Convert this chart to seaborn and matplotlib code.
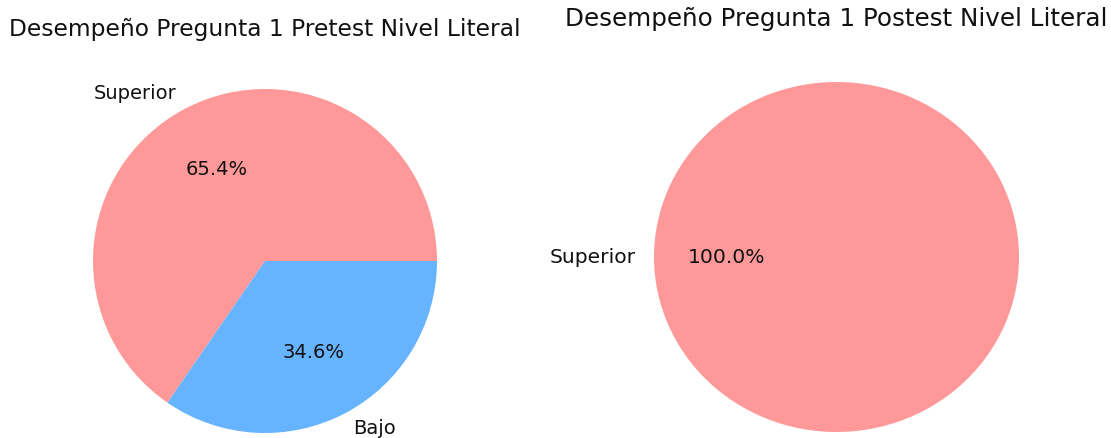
import matplotlib
matplotlib.use("Agg")
import matplotlib.pyplot as plt
import seaborn as sns

# Data
pre_labels = ["Superior", "Bajo"]
pre_values = [65.4, 34.6]
post_labels = ["Superior"]
post_values = [100.0]
pre_colors = ["#ff9999", "#66b3ff"]
post_colors = ["#ff9999"]
pre_title = "Desempeño Pregunta 1 Pretest Nivel Literal"
post_title = "Desempeño Pregunta 1 Postest Nivel Literal"

sns.set_style("white", rc={"text.color": "black"})
plt.rcParams["font.family"] = ["DejaVu Sans"]

W, H = 1111, 438
fig = plt.figure(figsize=(W / 100, H / 100), dpi=100)

# Left pie
ax1 = fig.add_axes([93 / W, 5 / H, 344 / W, 344 / H])
ax1.pie(pre_values, labels=pre_labels, colors=pre_colors, autopct="%1.1f%%",
        wedgeprops={"linewidth": 0, "edgecolor": "none"},
        textprops={"fontsize": 14, "color": "#111111"})
ax1.set_aspect("auto")
ax1.set_xlim(-1, 1)
ax1.set_ylim(-1, 1)

# Right pie
ax2 = fig.add_axes([654 / W, 6 / H, 365 / W, 350 / H])
ax2.pie(post_values, labels=post_labels, colors=post_colors, autopct="%1.1f%%",
        wedgeprops={"linewidth": 0, "edgecolor": "none"},
        textprops={"fontsize": 14.6, "color": "#111111"})
ax2.set_aspect("auto")
ax2.set_xlim(-1, 1)
ax2.set_ylim(-1, 1)

fig.text(265 / W, 1 - 36 / H, pre_title, ha="center", va="baseline",
         fontsize=16.8, color="#111111")
fig.text(836.5 / W, 1 - 26 / H, post_title, ha="center", va="baseline",
         fontsize=17.7, color="#111111")

fig.savefig("out.png", dpi=100)
